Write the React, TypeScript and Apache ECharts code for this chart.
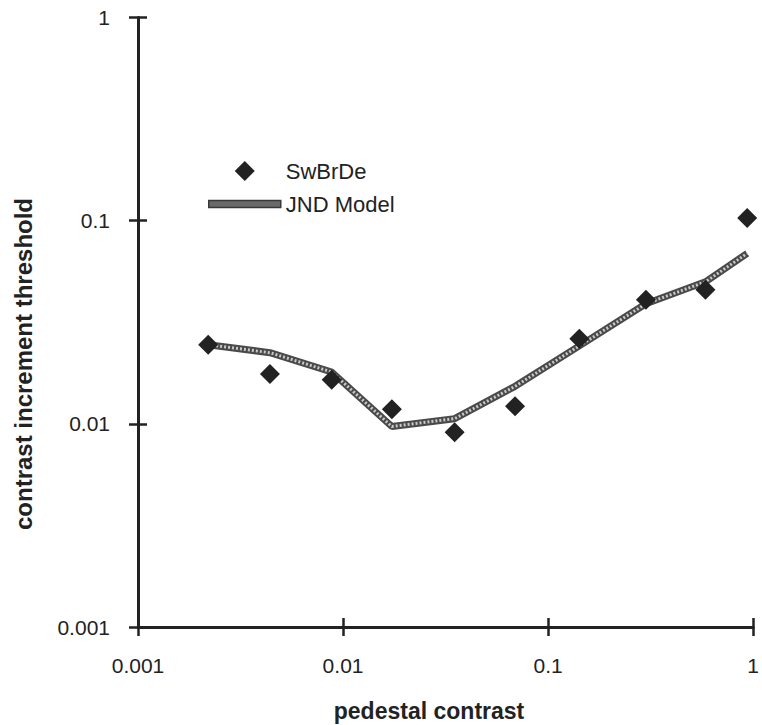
import React, { useEffect, useRef } from "react";
import * as echarts from "echarts";

const pedestal = [0.0022, 0.0044, 0.0088, 0.0173, 0.035, 0.069, 0.142, 0.3, 0.585, 0.935];
const swbrde = [0.0245, 0.0176, 0.0165, 0.0118, 0.0091, 0.0122, 0.0262, 0.0408, 0.0457, 0.103];
const jndModel = [0.0245, 0.0224, 0.018, 0.0097, 0.0106, 0.0153, 0.0242, 0.039, 0.05, 0.069];
const tickValues = [0.001, 0.01, 0.1, 1];
const tickLabels = ["0.001", "0.01", "0.1", "1"];

const FONT = "'Liberation Sans', Arial, Helvetica, sans-serif";
const INK = "#222";

const fmt = (v: number) => {
  const i = tickValues.findIndex((t) => Math.abs(Math.log10(t) - Math.log10(v)) < 1e-6);
  return i >= 0 ? tickLabels[i] : "";
};

export default function App() {
  const ref = useRef<HTMLDivElement>(null);
  useEffect(() => {
    if (!ref.current) return;
    const chart = echarts.init(ref.current, null, { renderer: "svg" });
    const baseAxis = {
      type: "log" as const,
      logBase: 10,
      min: 0.001,
      max: 1,
      splitLine: { show: false },
    };
    chart.setOption({
      animation: false,
      backgroundColor: "#fff",
      grid: { left: 138, right: 2, top: 17.5, bottom: 98 },
      xAxis: [
        {
          ...baseAxis,
          position: "bottom",
          axisLine: { show: true, lineStyle: { color: INK, width: 3 } },
          axisTick: { show: true, length: 9, lineStyle: { color: INK, width: 2.5 } },
          axisLabel: { formatter: fmt, margin: 28, fontSize: 21, color: INK, fontFamily: FONT },
        },
        {
          ...baseAxis,
          position: "bottom",
          offset: 0,
          axisLine: { show: false },
          axisTick: { show: true, inside: true, length: 9, lineStyle: { color: INK, width: 2.5 } },
          axisLabel: { show: false },
        },
      ],
      yAxis: [
        {
          ...baseAxis,
          position: "left",
          axisLine: { show: true, lineStyle: { color: INK, width: 3 } },
          axisTick: { show: true, length: 9, lineStyle: { color: INK, width: 2.5 } },
          axisLabel: { formatter: fmt, margin: 28, fontSize: 21, color: INK, fontFamily: FONT },
        },
        {
          ...baseAxis,
          position: "left",
          offset: 0,
          axisLine: { show: false },
          axisTick: { show: true, inside: true, length: 9, lineStyle: { color: INK, width: 2.5 } },
          axisLabel: { show: false },
        },
      ],
      legend: {
        orient: "vertical",
        left: 203,
        top: 155,
        itemWidth: 72,
        itemHeight: 20,
        itemGap: 11,
        symbolKeepAspect: true,
        textStyle: { fontSize: 22, lineHeight: 22, color: INK, fontFamily: FONT },
        data: [
          { name: "SwBrDe", icon: "path://M10 0L20 10L10 20L0 10Z", itemStyle: { color: INK, opacity: 1 } },
          {
            name: "JND Model",
            icon: "path://M0 0H72V7H0Z",
            itemStyle: { color: "#6a6a6a", borderColor: "#3a3a3a", borderWidth: 1.5, opacity: 1 },
          },
        ],
      },
      series: [
        {
          name: "JND Model",
          type: "line",
          xAxisIndex: 0,
          yAxisIndex: 0,
          data: pedestal.map((x, i) => [x, jndModel[i]]),
          symbol: "none",
          itemStyle: { color: "#4a4a4a" },
          lineStyle: { color: "#4a4a4a", width: 7 },
          z: 2,
        },
        {
          name: "JND Model",
          type: "line",
          xAxisIndex: 0,
          yAxisIndex: 0,
          data: pedestal.map((x, i) => [x, jndModel[i]]),
          symbol: "none",
          itemStyle: { color: "#c8c8c8" },
          lineStyle: { color: "#c8c8c8", width: 3, type: [2, 2] },
          z: 3,
        },
        {
          name: "SwBrDe",
          type: "scatter",
          xAxisIndex: 0,
          yAxisIndex: 0,
          data: pedestal.map((x, i) => [x, swbrde[i]]),
          symbol: "diamond",
          symbolSize: 20,
          itemStyle: { color: INK, opacity: 1 },
          z: 5,
        },
      ],
      graphic: [
        {
          type: "text",
          x: 23,
          y: 364,
          rotation: Math.PI / 2,
          style: {
            text: "contrast increment threshold",
            fontSize: 24,
            fontWeight: "bold",
            fontFamily: FONT,
            fill: INK,
            align: "center",
            verticalAlign: "middle",
          },
        },
        {
          type: "text",
          x: 429,
          y: 711,
          style: {
            text: "pedestal contrast",
            fontSize: 23,
            fontWeight: "bold",
            fontFamily: FONT,
            fill: INK,
            align: "center",
            verticalAlign: "middle",
          },
        },
      ],
    });
    return () => chart.dispose();
  }, []);
  return (
    <div
      ref={ref}
      style={{ position: "fixed", left: 0, top: 0, width: 762, height: 725, background: "#fff" }}
    />
  );
}
